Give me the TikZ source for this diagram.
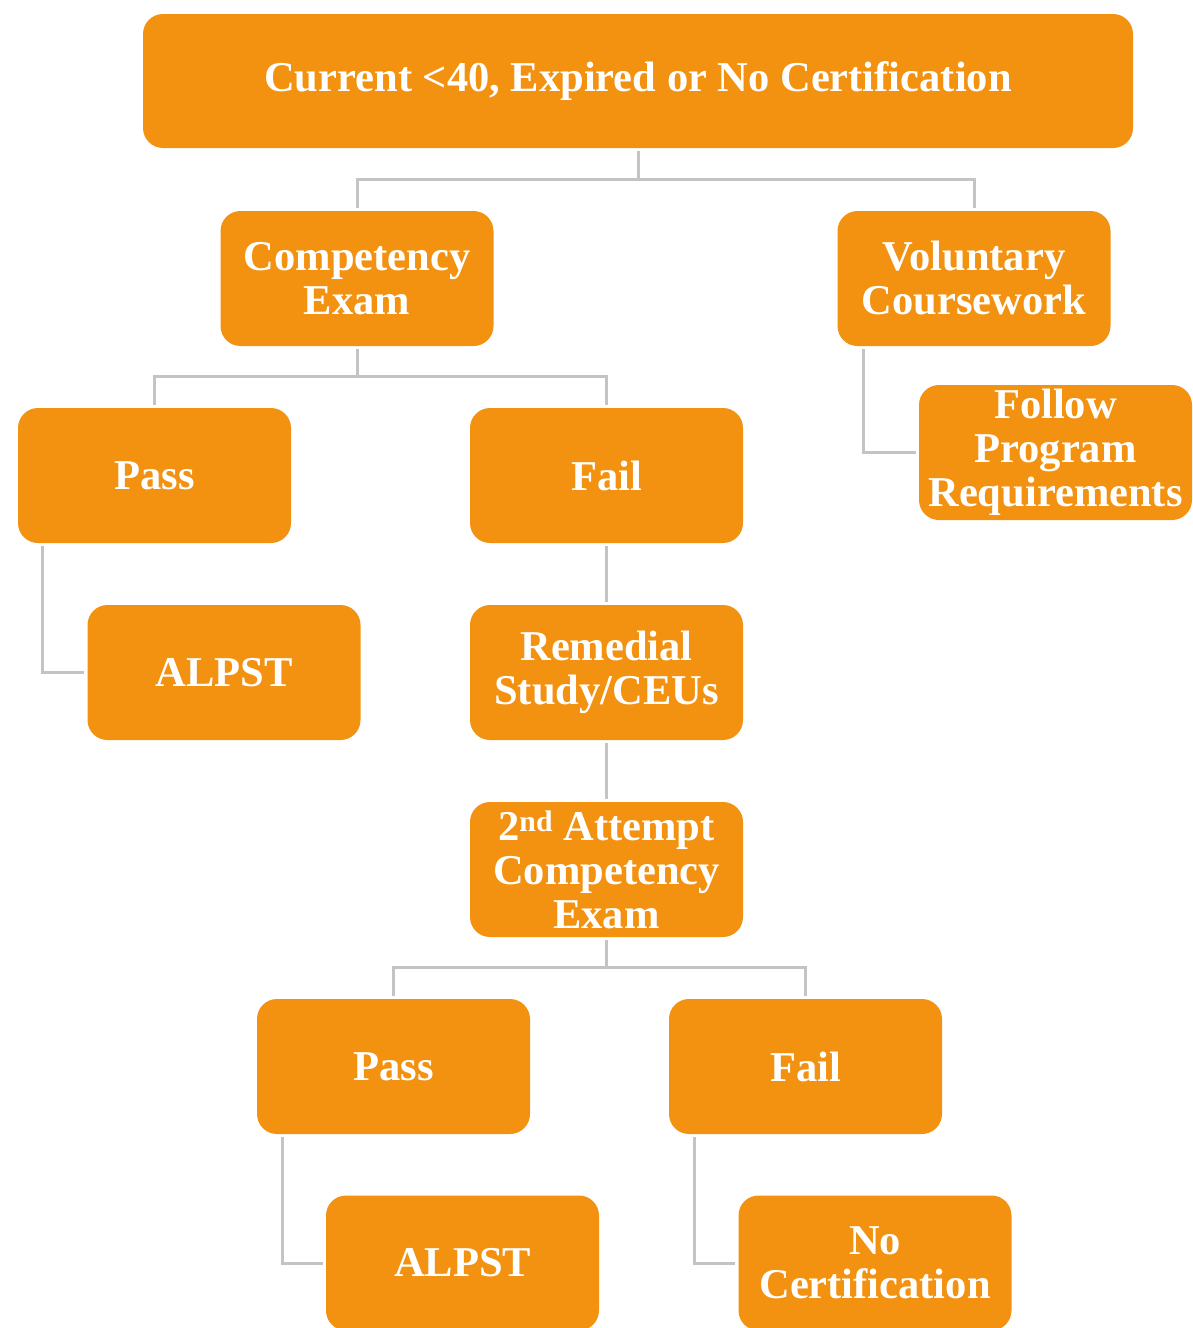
\documentclass[tikz,border=0pt]{standalone}
\usepackage{fontspec}
\setmainfont{Liberation Serif}
\definecolor{boxor}{HTML}{F39110}
\definecolor{lngray}{HTML}{C4C4C4}
\begin{document}
\begin{tikzpicture}[x=1pt,y=-1pt,
  box/.style={fill=boxor, rounded corners=20pt, minimum width=273pt, minimum height=135pt,
    text=white, font=\bfseries\fontsize{42.5}{44}\selectfont, align=center, inner sep=0pt},
  conn/.style={draw=lngray, line width=3pt, shorten <=3pt, shorten >=3pt}]
\useasboundingbox (0,0) rectangle (1192,1328);
\node[box, minimum width=990pt, minimum height=134pt] (top) at (638,81) {Current <40, Expired or No Certification};
\node[box] (comp) at (357,278.5) {Competency\\Exam};
\node[box] (vol) at (974,278.5) {Voluntary\\Coursework};
\node[box] (pass) at (154.5,475.5) {Pass};
\node[box] (fail) at (606.5,475.5) {Fail};
\node[box] (follow) at (1055.5,452.5) {Follow\\Program\\Requirements};
\node[box] (alpst) at (224,672.5) {ALPST};
\node[box] (rem) at (606.5,672.5) {Remedial\\Study/CEUs};
\node[box] (second) at (606.5,869.5) {2\textsuperscript{nd} Attempt\\Competency\\Exam};
\node[box] (pass2) at (393.5,1066.5) {Pass};
\node[box] (fail2) at (805.5,1066.5) {Fail};
\node[box] (alpst2) at (462.5,1263) {ALPST};
\node[box] (nocert) at (875,1263) {No\\Certification};
% top split
\draw[conn, shorten >=0pt] (top.south) -- ++(0,32);
\draw[conn] (comp.north) -- ++(0,-31) -| (vol.north);
% competency split
\draw[conn, shorten >=0pt] (comp.south) -- ++(0,31);
\draw[conn] (pass.north) -- ++(0,-31) -| (fail.north);
% second attempt split
\draw[conn, shorten >=0pt] (second.south) -- ++(0,31);
\draw[conn] (pass2.north) -- ++(0,-31) -| (fail2.north);
% vertical chain
\draw[conn] (fail.south) -- (rem.north);
\draw[conn] (rem.south) -- (second.north);
% elbows
\draw[conn] ([xshift=26pt]vol.south west) |- (follow.west);
\draw[conn] ([xshift=25pt]pass.south west) |- (alpst.west);
\draw[conn] ([xshift=26pt]pass2.south west) |- (alpst2.west);
\draw[conn] ([xshift=26pt]fail2.south west) |- (nocert.west);
\end{tikzpicture}
\end{document}
